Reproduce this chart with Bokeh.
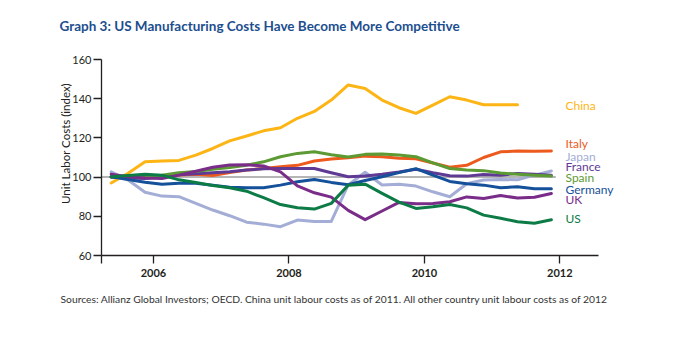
import pandas as pd
from bokeh.plotting import figure
from bokeh.models import Label, FixedTicker, Range1d
from bokeh.embed import file_html
from bokeh.resources import INLINE

# ---------------- data ----------------
quarters = pd.period_range("2005Q2", "2011Q4", freq="Q")
years = [q.year + (q.quarter - 1) * 0.25 + 0.125 for q in quarters]

china = [97, 102, 107.8, 108.2, 108.5, 111.2, 114.6, 118.5, 121, 123.6, 125.2, 130, 133.5,
         139.3, 147, 145.2, 139.3, 135.4, 132.5, 136.7, 141, 139.3, 136.9, 136.9, 136.9]
italy = [100, 99.7, 100, 100.3, 101.1, 101.4, 100.8, 102.3, 103.6, 104.4, 105.3, 106, 108.2,
         109.2, 109.9, 110.7, 110.4, 109.6, 109.4, 107.2, 105, 106, 110, 112.9, 113.3, 113.2, 113.3]
japan = [102.7, 98.5, 92.3, 90.3, 90, 86.6, 83.2, 80.3, 77, 76, 74.7, 78.1, 77.4,
         77.4, 96, 102.5, 96, 96.3, 95.4, 92.5, 90, 96.6, 98.5, 98.8, 98.6, 101, 103.1]
france = [100, 99.5, 99.3, 100, 101.2, 101.7, 102.2, 102.7, 103.6, 104.2, 104.4, 104.4, 104.4,
          102.2, 100.2, 100.6, 101.5, 102.6, 104, 102.2, 100.7, 100.5, 101.3, 101, 101.9, 101.4, 101]
spain = [100, 100.1, 100.5, 100.9, 102.2, 102.8, 104, 104.9, 106.1, 107.8, 110.4, 112.1, 112.9,
         111.4, 110.3, 111.6, 111.8, 111.3, 110.4, 107.3, 104.4, 103.6, 103.3, 102.1, 101.5, 101, 100.5]
germany = [100.2, 98.8, 97.4, 96.3, 96.8, 96.8, 95.9, 94.8, 94.6, 94.6, 95.9, 97.6, 98.8,
           97.3, 96.1, 98.3, 100.2, 102.3, 104.3, 101, 97.8, 96.6, 95.9, 94.6, 95.1, 94.1, 94.1]
uk = [101.5, 100.2, 99.5, 99.3, 101, 103, 105, 106.2, 106.3, 105.7, 102.7, 95.5, 92,
      89.8, 83, 78.3, 82.7, 87.1, 86.4, 86.5, 87.4, 89.9, 89.1, 90.6, 89.3, 89.7, 91.6]
us = [100.2, 100.8, 101.4, 101, 98.6, 97.2, 95.7, 94.6, 92.8, 89.5, 86, 84.4, 83.7,
      86.6, 95.8, 96.4, 91.7, 87.2, 84, 84.9, 86, 84.3, 80.6, 79, 77.2, 76.5, 78.2]

countries = ["China", "Italy", "Japan", "France", "Spain", "Germany", "UK", "US"]
series = [china, italy, japan, france, spain, germany, uk, us]
colors = ["#FDB515", "#EC5A1E", "#A3ADD6", "#5E3A94", "#5C9A33", "#15509A", "#7A2C89", "#0C7B46"]
label_y = [136.7, 117.3, 110.7, 105.6, 100.0, 93.9, 88.8, 79.1]

x_ticks = [2006, 2008, 2010, 2012]
y_ticks = [60, 80, 100, 120, 140, 160]
baseline = 100
axis_x0, axis_x1 = 2005.232, 2012.571   # extent of the x axis line
axis_y0, axis_y1 = 60, 160               # extent of the y axis line
baseline_end = 2011.94

title = "Graph 3: US Manufacturing Costs Have Become More Competitive"
y_title = "Unit Labor Costs (index)"
source = ("Sources: Allianz Global Investors; OECD. China unit labour costs as of 2011. "
          "All other country unit labour costs as of 2012")

# ---------------- layout (pixels) ----------------
W, H = 683, 360
ax_left, ax_right = 101, 598    # x pixel of axis_x0 / axis_x1
ax_top, ax_bottom = 59, 255     # y pixel of axis_y1 / axis_y0
ppx = (ax_right - ax_left) / (axis_x1 - axis_x0)
ppy = (ax_bottom - ax_top) / (axis_y1 - axis_y0)
x_lo = axis_x0 - ax_left / ppx
x_hi = axis_x1 + (W - ax_right) / ppx
y_hi = axis_y1 + ax_top / ppy
y_lo = axis_y0 - (H - ax_bottom) / ppy

FONT = "Lato"
INK = "#231F20"

p = figure(width=W, height=H, output_backend="svg", toolbar_location=None,
           x_range=Range1d(x_lo, x_hi), y_range=Range1d(y_lo, y_hi), min_border=0)
p.title.visible = False
p.outline_line_color = None
p.xgrid.visible = False
p.ygrid.visible = False
p.background_fill_color = "white"
p.border_fill_color = "white"

# baseline at 100
p.line([axis_x0, baseline_end], [baseline, baseline], line_color="#9D9D9D", line_width=1.5)

for name, vals, c in zip(countries, series, colors):
    p.line(years[:len(vals)], vals, line_color=c, line_width=3, line_join="round", line_cap="round")

# axes
p.xaxis.fixed_location = axis_y0
p.yaxis.fixed_location = axis_x0
p.xaxis.bounds = (axis_x0, axis_x1)
p.yaxis.bounds = (axis_y0, axis_y1)
p.xaxis.ticker = FixedTicker(ticks=[axis_x0] + x_ticks)
p.xaxis.major_label_overrides = {axis_x0: ""}
p.yaxis.ticker = FixedTicker(ticks=y_ticks)
for ax in (p.xaxis[0], p.yaxis[0]):
    ax.axis_line_color = INK
    ax.axis_line_width = 1.3
    ax.major_tick_line_color = INK
    ax.major_tick_line_width = 1.3
    ax.major_tick_out = 8
    ax.major_tick_in = 0
    ax.minor_tick_line_color = None
    ax.major_label_text_font = FONT
    ax.major_label_text_color = INK
    ax.major_label_text_font_size = "11px"
p.xaxis.major_label_text_font_style = "bold"
p.xaxis.major_label_standoff = 5
p.yaxis.major_label_standoff = 2

# country labels
for name, yv, c in zip(countries, label_y, colors):
    p.add_layout(Label(x=565, y=yv, x_units="screen", y_units="data", text=name,
                       text_color=c, text_font=FONT, text_font_size="12px",
                       text_baseline="middle", text_align="left"))

# title, axis title, source (screen units, origin bottom-left)
p.add_layout(Label(x=59, y=H - 25, x_units="screen", y_units="screen", text=title,
                   text_color="#1C4E8E", text_font=FONT, text_font_style="bold",
                   text_font_size="13.5px", text_baseline="middle", text_align="left"))
p.add_layout(Label(x=65, y=H - 143, x_units="screen", y_units="screen", text=y_title,
                   angle=1.5708, text_color=INK, text_font=FONT, text_font_size="11.5px",
                   text_baseline="middle", text_align="center"))
p.add_layout(Label(x=60, y=H - 298, x_units="screen", y_units="screen", text=source,
                   text_color="#333333", text_font=FONT, text_font_size="10.3px",
                   text_baseline="middle", text_align="left"))

open("out.html", "w").write(file_html(p, INLINE))
